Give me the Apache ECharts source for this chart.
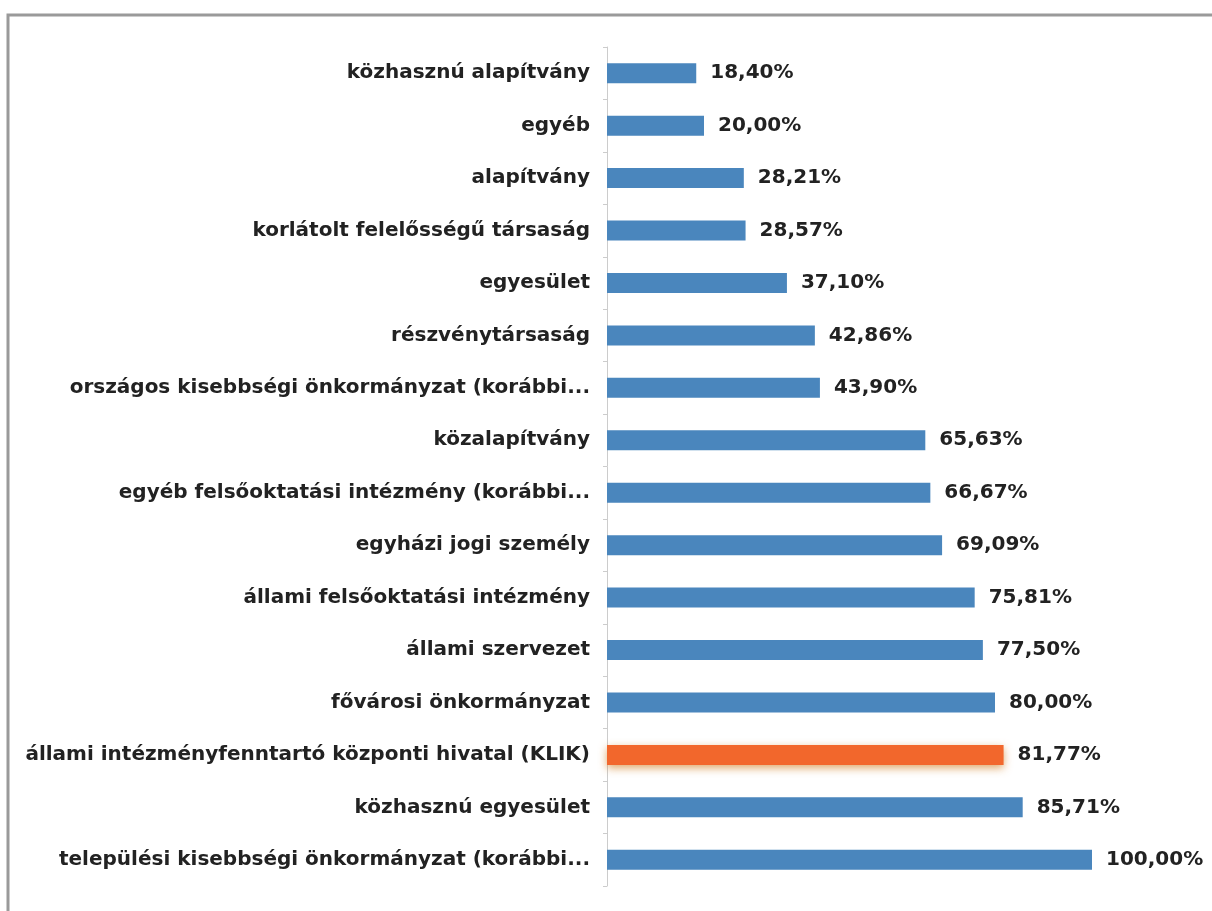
<!DOCTYPE html>
<html>
<head>
<meta charset="utf-8">
<script src="https://cdn.jsdelivr.net/npm/echarts@6/dist/echarts.min.js"></script>
<style>
  html, body { margin: 0; padding: 0; background: #fff; }
  #chart { width: 1212px; height: 911px; }
</style>
</head>
<body>
<div id="chart"></div>
<script>
  // kategóriák felülről lefelé
  var categories = [
    'közhasznú alapítvány',
    'egyéb',
    'alapítvány',
    'korlátolt felelősségű társaság',
    'egyesület',
    'részvénytársaság',
    'országos kisebbségi önkormányzat (korábbi...',
    'közalapítvány',
    'egyéb felsőoktatási intézmény (korábbi...',
    'egyházi jogi személy',
    'állami felsőoktatási intézmény',
    'állami szervezet',
    'fővárosi önkormányzat',
    'állami intézményfenntartó központi hivatal (KLIK)',
    'közhasznú egyesület',
    'települési kisebbségi önkormányzat (korábbi...'
  ]
  var values = [18.40, 20.00, 28.21, 28.57, 37.10, 42.86, 43.90, 65.63, 66.67, 69.09, 75.81, 77.50, 80.00, 81.77, 85.71, 100.00]
  var highlight = 'állami intézményfenntartó központi hivatal (KLIK)'

  var chart = echarts.init(document.getElementById('chart'))
  var font = '"DejaVu Sans", sans-serif'

  chart.setOption({
    animation: false,
    graphic: [
      {
        type: 'rect',
        shape: { x: 8, y: 15, width: 1400, height: 1200 },
        style: { fill: 'none', stroke: '#9a9a9a', lineWidth: 3 },
        silent: true
      }
    ],
    grid: { left: 607, right: 120, top: 47, bottom: 25 },
    xAxis: {
      type: 'value',
      min: 0,
      max: 100,
      show: false
    },
    yAxis: {
      type: 'category',
      inverse: true,
      data: categories,
      axisLine: { lineStyle: { color: '#cccccc', width: 1 } },
      axisTick: { show: true, length: 4, lineStyle: { color: '#cccccc' } },
      axisLabel: {
        margin: 17,
        color: '#222222',
        fontSize: 20,
        fontWeight: 'bold',
        fontFamily: font
      }
    },
    series: [
      {
        type: 'bar',
        barWidth: 20,
        data: values.map(function (v, i) {
          var isHl = categories[i] === highlight
          return {
            value: v,
            itemStyle: isHl ? {
              color: '#f2672c',
              shadowColor: 'rgba(210,130,40,0.7)',
              shadowBlur: 8,
              shadowOffsetY: 3
            } : { color: '#4a86bd' }
          }
        }),
        label: {
          show: true,
          position: 'right',
          distance: 14,
          color: '#222222',
          fontSize: 20,
          fontWeight: 'bold',
          fontFamily: font,
          formatter: function (p) {
            return p.value.toFixed(2).replace('.', ',') + '%'
          }
        }
      }
    ]
  })
</script>
</body>
</html>
